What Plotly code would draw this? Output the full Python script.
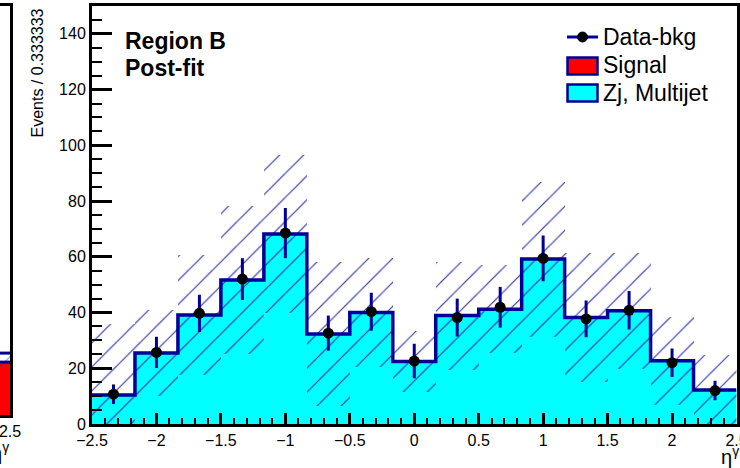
import plotly.graph_objects as go

W, H = 740, 468

# ---------------- data (Region B, post-fit) ----------------
bin_centers = [-2.3333, -2.0, -1.6667, -1.3333, -1.0, -0.6667, -0.3333, 0.0,
               0.3333, 0.6667, 1.0, 1.3333, 1.6667, 2.0, 2.3333]
bin_width = 0.333333

zj_multijet = [10.4, 25.5, 39.1, 51.7, 68.2, 32.3, 40.0, 22.4,
               38.9, 41.2, 59.2, 38.2, 40.6, 22.7, 12.2]
signal = [0.0] * 15
syst_unc = [25.6, 15.5, 21.6, 26.6, 28.2, 25.7, 19.6, 10.8,
            19.4, 15.8, 27.8, 23.2, 20.8, 15.8, 12.6]

data_bkg = [10.7, 25.7, 39.7, 52.0, 68.5, 32.6, 40.3, 22.6,
            38.2, 41.9, 59.4, 37.7, 40.8, 22.0, 12.0]
data_err = [3.5, 5.6, 6.7, 7.5, 9.0, 6.3, 6.8, 6.2,
            6.8, 7.3, 8.2, 6.6, 6.9, 5.1, 3.5]

# neighbouring panel (only its right-most sliver is visible)
left_centers = [2.3333]
left_signal = [19.4]
left_unc = [3.3]

x_ticks = [-2.5, -2, -1.5, -1, -0.5, 0, 0.5, 1, 1.5, 2, 2.5]
y_ticks = [0, 20, 40, 60, 80, 100, 120, 140]

# ---------------- styles ----------------
CYAN = "#00FFFF"
RED = "#FF0000"
NAVY = "#000099"
HATCH = "#2b2ba8"
FONT = "Liberation Sans, Arial, sans-serif"


def px(x):
    return x / W


def py(y):
    return 1 - y / H


total = [z + s for z, s in zip(zj_multijet, signal)]
edges = [c - bin_width / 2 for c in bin_centers] + [bin_centers[-1] + bin_width / 2]

fig = go.Figure()

# Zj, Multijet (cyan fill)
fig.add_trace(go.Bar(x=bin_centers, y=zj_multijet, width=bin_width,
                     marker=dict(color=CYAN, line=dict(width=0)),
                     name="Zj, Multijet", showlegend=False))
# Signal stacked on top
fig.add_trace(go.Bar(x=bin_centers, y=signal, base=zj_multijet, width=bin_width,
                     marker=dict(color=RED, line=dict(width=0)),
                     name="Signal", showlegend=False))
# uncertainty hatch band
fig.add_trace(go.Bar(x=bin_centers,
                     y=[2 * e for e in syst_unc],
                     base=[t - e for t, e in zip(total, syst_unc)],
                     width=bin_width,
                     marker=dict(color="rgba(0,0,0,0)", line=dict(width=0),
                                 pattern=dict(shape="/", fgcolor=HATCH, bgcolor="rgba(0,0,0,0)",
                                              size=17, solidity=0.07, fgopacity=0.9)),
                     name="Uncertainty", showlegend=False))
# stack outline
fig.add_trace(go.Scatter(x=edges, y=total + [total[-1]], mode="lines",
                         line=dict(color=NAVY, width=3.5, shape="hv"),
                         showlegend=False, hoverinfo="skip"))
# data points
fig.add_trace(go.Scatter(x=bin_centers, y=data_bkg, mode="markers",
                         marker=dict(color="black", size=11),
                         error_y=dict(type="data", array=data_err, color=NAVY,
                                      thickness=3, width=0),
                         name="Data-bkg", showlegend=False))

# ---- left neighbouring panel sliver ----
fig.add_trace(go.Bar(x=left_centers, y=left_signal, width=bin_width,
                     marker=dict(color=RED, line=dict(width=0)),
                     xaxis="x2", yaxis="y2", showlegend=False))
fig.add_trace(go.Bar(x=left_centers, y=[2 * e for e in left_unc],
                     base=[s - e for s, e in zip(left_signal, left_unc)],
                     width=bin_width,
                     marker=dict(color="rgba(0,0,0,0)", line=dict(width=0),
                                 pattern=dict(shape="/", fgcolor=HATCH, bgcolor="rgba(0,0,0,0)",
                                              size=17, solidity=0.07)),
                     xaxis="x2", yaxis="y2", showlegend=False))
for lvl in (left_signal, [s + e for s, e in zip(left_signal, left_unc)]):
    fig.add_trace(go.Scatter(x=[left_centers[0] - bin_width / 2, left_centers[0] + bin_width / 2],
                             y=[lvl[0], lvl[0]], mode="lines",
                             line=dict(color=NAVY, width=3),
                             xaxis="x2", yaxis="y2", showlegend=False, hoverinfo="skip"))

axis_font = dict(family=FONT, size=16, color="black")

fig.update_layout(
    width=W, height=H,
    margin=dict(l=0, r=0, t=0, b=0),
    paper_bgcolor="white", plot_bgcolor="white",
    barmode="overlay", bargap=0,
    showlegend=False,
    font=dict(family=FONT, color="black"),
    xaxis=dict(domain=[px(92), px(736.5)], range=[-2.5, 2.5],
               tickvals=x_ticks, ticks="inside", ticklen=11, tickwidth=2.5, tickcolor="black",
               minor=dict(dtick=0.1, tick0=-2.5, ticks="inside", ticklen=6, tickwidth=2, tickcolor="black"),
               showline=True, linewidth=3, linecolor="black", mirror=True,
               showgrid=False, zeroline=False, tickfont=axis_font, automargin=False,
               ticklabeloverflow="allow", anchor="y"),
    yaxis=dict(domain=[py(424), py(6)], range=[0, 150],
               tickvals=y_ticks, ticks="inside", ticklen=20, tickwidth=2.5, tickcolor="black",
               minor=dict(dtick=5, tick0=0, ticks="inside", ticklen=10, tickwidth=2, tickcolor="black"),
               showline=True, linewidth=3, linecolor="black", mirror=True,
               showgrid=False, zeroline=False, tickfont=axis_font, automargin=False,
               ticklabeloverflow="allow", anchor="x"),
    xaxis2=dict(domain=[0, px(10)], range=[2.2, 2.5], tickvals=[2.5],
                ticks="inside", ticklen=8, tickwidth=2, tickcolor="black",
                showline=True, linewidth=3, linecolor="black", mirror=True,
                showgrid=False, zeroline=False, tickfont=axis_font, automargin=False,
                ticklabeloverflow="allow", anchor="y2"),
    yaxis2=dict(domain=[py(415), py(6)], range=[0, 150], side="right",
                ticks="", showticklabels=False,
                showline=True, linewidth=3, linecolor="black", mirror=False,
                showgrid=False, zeroline=False, automargin=False, anchor="x2"),
)

annotations = [
    dict(text="<b>Region B</b>", x=px(123), y=py(41), xanchor="left", yanchor="middle",
         font=dict(size=23)),
    dict(text="<b>Post-fit</b>", x=px(123), y=py(68), xanchor="left", yanchor="middle",
         font=dict(size=23)),
    dict(text="Events / 0.333333", x=px(37), y=py(7), xanchor="center", yanchor="top",
         textangle=-90, font=dict(size=16)),
    dict(text="η<sup>γ</sup>", x=px(741), y=py(455), xanchor="right", yanchor="middle",
         font=dict(size=20)),
    dict(text="η<sup>γ</sup>", x=px(11), y=py(451), xanchor="right", yanchor="middle",
         font=dict(size=20)),
    dict(text="Data-bkg", x=px(601), y=py(37), xanchor="left", yanchor="middle",
         font=dict(size=23)),
    dict(text="Signal", x=px(601), y=py(65), xanchor="left", yanchor="middle",
         font=dict(size=23)),
    dict(text="Zj, Multijet", x=px(601), y=py(93), xanchor="left", yanchor="middle",
         font=dict(size=23)),
]
for a in annotations:
    a.update(xref="paper", yref="paper", showarrow=False)
    a["font"].update(family=FONT, color="black")
fig.update_layout(annotations=annotations)

shapes = [
    dict(type="line", x0=px(567), x1=px(598), y0=py(37), y1=py(37),
         line=dict(color=NAVY, width=3)),
    dict(type="circle", x0=px(577.5), x1=px(587.5), y0=py(42), y1=py(32),
         fillcolor="black", line=dict(color="black", width=1)),
    dict(type="rect", x0=px(567.5), x1=px(597.5), y0=py(74.5), y1=py(57.5),
         fillcolor=RED, line=dict(color=NAVY, width=2.5)),
    dict(type="rect", x0=px(567.5), x1=px(597.5), y0=py(101.5), y1=py(84.5),
         fillcolor=CYAN, line=dict(color=NAVY, width=2.5)),
]
for s in shapes:
    s.update(xref="paper", yref="paper")
fig.update_layout(shapes=shapes)

fig.write_html("out.html")
